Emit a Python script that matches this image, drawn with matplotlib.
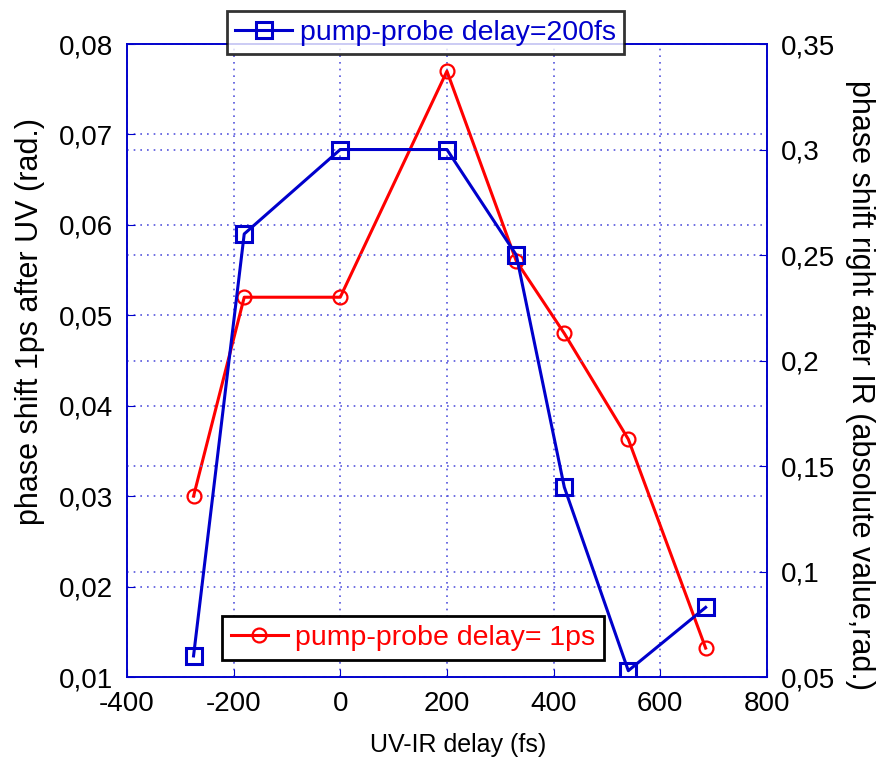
"Phase shift vs UV-IR delay for two pump-probe delays"

import matplotlib

matplotlib.use("Agg")
import matplotlib.pyplot as plt
from matplotlib.ticker import FixedLocator, FuncFormatter

uv_ir_delay = [-275, -180, 0, 200, 330, 420, 540, 685]
# pump-probe delay = 1 ps, left axis
shift_1ps = [0.030, 0.052, 0.052, 0.077, 0.056, 0.048, 0.0363, 0.0132]
# pump-probe delay = 200 fs, right axis
shift_200fs = [0.060, 0.260, 0.300, 0.300, 0.250, 0.140, 0.053, 0.083]

left_ticks = [0.01, 0.02, 0.03, 0.04, 0.05, 0.06, 0.07, 0.08]
right_ticks = [0.05, 0.10, 0.15, 0.20, 0.25, 0.30, 0.35]
x_ticks = [-400, -200, 0, 200, 400, 600, 800]

BLUE = "#0000cc"
RED = "#ff0000"
GRID = "#5555dd"

plt.rcParams["font.family"] = ["Liberation Sans", "DejaVu Sans"]
plt.rcParams["axes.unicode_minus"] = False


def comma_fmt(val, _pos):
    text = ("%.2f" % val).rstrip("0")
    if text.endswith("."):
        text = text[:-1]
    return text.replace(".", ",")


fig = plt.figure(figsize=(8.81, 7.67), dpi=100)
ax = fig.add_axes([0.144, 0.1173, 0.7266, 0.8253])
ax2 = ax.twinx()

(red_line,) = ax.plot(uv_ir_delay, shift_1ps, color=RED, lw=2.2, marker="o",
                      ms=10, mfc="none", mec=RED, mew=1.6,
                      label="pump-probe delay= 1ps")
(blue_line,) = ax2.plot(uv_ir_delay, shift_200fs, color=BLUE, lw=2.2, marker="s",
                        ms=11, mfc="none", mec=BLUE, mew=2.2,
                        label="pump-probe delay=200fs")

ax.set_xlim(-400, 800)
ax.set_ylim(0.01, 0.08)
ax2.set_ylim(0.05, 0.35)

ax.xaxis.set_major_locator(FixedLocator(x_ticks))
ax.yaxis.set_major_locator(FixedLocator(left_ticks))
ax2.yaxis.set_major_locator(FixedLocator(right_ticks))
ax.yaxis.set_major_formatter(FuncFormatter(comma_fmt))
ax2.yaxis.set_major_formatter(FuncFormatter(comma_fmt))

gkw = dict(color=GRID, linestyle=(0, (1, 3)), linewidth=1.2)
ax.grid(True, which="major", **gkw)
ax2.grid(True, axis="y", **gkw)
ax.set_axisbelow(True)
ax2.set_axisbelow(True)

for a in (ax, ax2):
    for sp in a.spines.values():
        sp.set_color(BLUE)
        sp.set_linewidth(1.2)
    a.tick_params(direction="in", length=6, color=BLUE, labelsize=20,
                  labelcolor="black", pad=10)

ax.set_xlabel("UV-IR delay (fs)", fontsize=18)
ax.set_ylabel("phase shift 1ps after UV (rad.)", fontsize=22)
ax2.set_ylabel("phase shift right after IR (absolute value,rad.)",
               fontsize=22, rotation=270)
ax.xaxis.set_label_coords(0.517, -0.107)
ax.xaxis.label.set_verticalalignment("center")
ax.yaxis.set_label_coords(-0.152, 0.561)
ax.yaxis.label.set_verticalalignment("center")
ax2.yaxis.set_label_coords(1.146, 0.461)
ax2.yaxis.label.set_verticalalignment("center")

leg1 = fig.legend(handles=[blue_line], loc="center",
                  bbox_to_anchor=(0.483, 0.9576), fontsize=20.5,
                  frameon=True, fancybox=False, handlelength=2.0,
                  handletextpad=0.25, borderpad=0.3, borderaxespad=0)
leg1.get_frame().set_edgecolor("black")
leg1.get_frame().set_linewidth(2)
leg1.get_texts()[0].set_color(BLUE)

leg2 = ax2.legend(handles=[red_line], loc="center",
                  bbox_to_anchor=(0.447, 0.0616), fontsize=20.5,
                  frameon=True, fancybox=False, handlelength=2.0,
                  handletextpad=0.25, borderpad=0.3, borderaxespad=0,
                  framealpha=1)
leg2.get_frame().set_edgecolor("black")
leg2.get_frame().set_linewidth(2)
leg2.get_texts()[0].set_color(RED)

fig.savefig("out.png", dpi=100)
